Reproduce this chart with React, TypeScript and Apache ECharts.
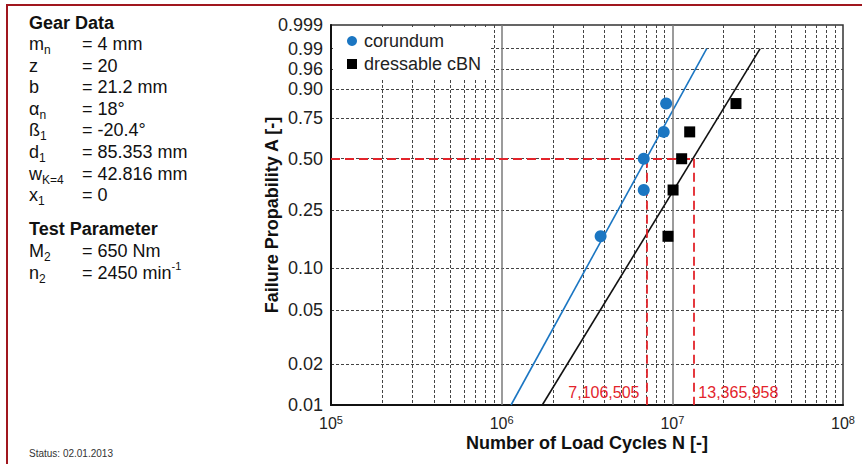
import React, { useEffect, useRef } from 'react';
import * as echarts from 'echarts';

// ---------- data ----------
const probabilityTicks = [0.01, 0.02, 0.05, 0.1, 0.25, 0.5, 0.75, 0.9, 0.96, 0.99, 0.999];
const probabilityLabels = ['0.01', '0.02', '0.05', '0.10', '0.25', '0.50', '0.75', '0.90', '0.96', '0.99', '0.999'];
const decadeExponents = [5, 6, 7, 8];
const minorMultipliers = [2, 3, 4, 5, 6, 7, 8, 9];

const failureProbability = [0.167, 0.333, 0.5, 0.667, 0.833];
const corundumCycles = [3.8e6, 6.8e6, 6.8e6, 8.9e6, 9.2e6];
const cbnCycles = [9.43e6, 1.01e7, 1.134e7, 1.264e7, 2.36e7];

const fitProbability = [0.01, 0.99];
const corundumFitCycles = [1.135e6, 1.59e7];
const cbnFitCycles = [1.73e6, 3.27e7];

const medianProbability = 0.5;
const medianLifeCycles = [7106505, 13365958];

const gearDataRows = [
  ['m', 'n', '= 4 mm'],
  ['z', '', '= 20'],
  ['b', '', '= 21.2 mm'],
  ['α', 'n', '= 18°'],
  ['ß', '1', '= -20.4°'],
  ['d', '1', '= 85.353 mm'],
  ['w', 'K=4', '= 42.816 mm'],
  ['x', '1', '= 0'],
];
const testParameterRows = [
  ['M', '2', '= 650 Nm', ''],
  ['n', '2', '= 2450 min', '-1'],
];

// ---------- helpers ----------
const FONT = '"Liberation Sans", Arial, Helvetica, sans-serif';
const W = (p: number) => Math.log(-Math.log(1 - p));
const L = (n: number) => Math.log10(n);

const BLUE = '#1b76c2';
const RED = '#e3242b';
const FRAME = '#a0161e';

function buildOption() {
  const yTickValues = probabilityTicks.map(W);
  const yGridValues = probabilityTicks.slice(1, -1).map(W);
  const xMinorValues: number[] = [];
  decadeExponents.slice(0, -1).forEach((e) => {
    minorMultipliers.forEach((k) => xMinorValues.push(L(k * Math.pow(10, e))));
  });
  const xMin = decadeExponents[0];
  const xMax = decadeExponents[decadeExponents.length - 1];
  const innerDecades = decadeExponents.slice(1, -1);

  const rich = {
    b: { fontSize: 18, fontFamily: FONT, fill: '#111', lineHeight: 24, verticalAlign: 'middle' },
    s: { fontSize: 12, fontFamily: FONT, fill: '#111', lineHeight: 12, verticalAlign: 'bottom' },
    p: { fontSize: 11, fontFamily: FONT, fill: '#111', lineHeight: 11, verticalAlign: 'top' },
  };

  const graphics: any[] = [
    { type: 'line', shape: { x1: 6, y1: 5, x2: 862, y2: 5 }, style: { stroke: FRAME, lineWidth: 2 } },
    { type: 'line', shape: { x1: 7, y1: 4, x2: 7, y2: 464 }, style: { stroke: FRAME, lineWidth: 2 } },
    {
      type: 'text', x: 29, y: 22.5,
      style: { text: 'Gear Data', fontSize: 18, fontWeight: 'bold', fontFamily: FONT, fill: '#111', verticalAlign: 'middle' },
    },
    {
      type: 'text', x: 29, y: 229,
      style: { text: 'Test Parameter', fontSize: 18, fontWeight: 'bold', fontFamily: FONT, fill: '#111', verticalAlign: 'middle' },
    },
    {
      type: 'text', x: 29, y: 453,
      style: { text: 'Status: 02.01.2013', fontSize: 10, fontFamily: FONT, fill: '#333', verticalAlign: 'middle' },
    },
  ];
  gearDataRows.forEach((r, i) => {
    const y = 44 + i * 21.6;
    graphics.push({
      type: 'text', x: 29, y,
      style: { text: `{b|${r[0]}}` + (r[1] ? `{s|${r[1]}}` : ''), rich, verticalAlign: 'middle' },
    });
    graphics.push({
      type: 'text', x: 82, y,
      style: { text: r[2], fontSize: 18, fontFamily: FONT, fill: '#111', verticalAlign: 'middle' },
    });
  });
  testParameterRows.forEach((r, i) => {
    const y = 251 + i * 21.6;
    graphics.push({
      type: 'text', x: 29, y,
      style: { text: `{b|${r[0]}}{s|${r[1]}}`, rich, verticalAlign: 'middle' },
    });
    graphics.push({
      type: 'text', x: 82, y,
      style: { text: `{b|${r[2]}}` + (r[3] ? `{p|${r[3]}}` : ''), rich, verticalAlign: 'middle' },
    });
  });

  return {
    animation: false,
    textStyle: { fontFamily: FONT },
    grid: {
      left: 331, right: 19, top: 25, bottom: 59,
      show: true, borderColor: '#333', borderWidth: 1.5, backgroundColor: 'transparent',
      containLabel: false,
    },
    legend: {
      data: ['corundum', 'dressable cBN'],
      orient: 'vertical',
      left: 333, top: 27,
      padding: [5, 8, 7, 14],
      itemGap: 5,
      itemWidth: 10, itemHeight: 10,
      backgroundColor: '#fff',
      textStyle: { fontSize: 18, color: '#222', fontFamily: FONT, padding: [0, 0, 0, 2] },
    },
    xAxis: {
      type: 'value', min: xMin, max: xMax,
      name: 'Number of Load Cycles N [-]', nameLocation: 'middle', nameGap: 29,
      nameMoveOverlap: false,
      nameTextStyle: { fontSize: 18, fontWeight: 'bold', color: '#111', fontFamily: FONT },
      axisLine: { show: true, onZero: false, lineStyle: { color: '#111', width: 2 } },
      axisTick: { show: false, customValues: xMinorValues },
      axisLabel: {
        customValues: decadeExponents,
        margin: 9,
        formatter: (v: number) => `{b|10}{s|${Math.round(v)}}`,
        rich: {
          b: { fontSize: 16, color: '#222', fontFamily: FONT, lineHeight: 18 },
          s: { fontSize: 11, color: '#222', fontFamily: FONT, lineHeight: 14, verticalAlign: 'top' },
        },
      },
      splitLine: { show: true, lineStyle: { color: '#444', width: 1, type: [3, 2] } },
    },
    yAxis: {
      type: 'value', min: yTickValues[0], max: yTickValues[yTickValues.length - 1],
      name: 'Failure Propability A [-]', nameLocation: 'middle', nameGap: 50, nameRotate: 90,
      nameMoveOverlap: false,
      nameTextStyle: { fontSize: 18, fontWeight: 'bold', color: '#111', fontFamily: FONT },
      axisLine: { show: true, onZero: false, lineStyle: { color: '#111', width: 2 } },
      axisTick: { show: false, customValues: yGridValues },
      axisLabel: {
        customValues: yTickValues,
        margin: 8,
        fontSize: 18, color: '#222', fontFamily: FONT,
        formatter: (v: number) => {
          let best = 0;
          yTickValues.forEach((t, i) => {
            if (Math.abs(t - v) < Math.abs(yTickValues[best] - v)) best = i;
          });
          return probabilityLabels[best];
        },
      },
      splitLine: { show: true, lineStyle: { color: '#444', width: 1, type: [3, 2] } },
    },
    graphic: graphics,
    series: [
      {
        name: 'decades', type: 'line', data: [], z: 1, silent: true,
        markLine: {
          silent: true, symbol: 'none', label: { show: false },
          lineStyle: { color: '#7a7a7a', width: 1.5, type: 'solid' },
          data: innerDecades.map((e) => ({ xAxis: e })),
        },
      },
      {
        name: 'corundum fit', type: 'line', z: 2, symbol: 'none', silent: true,
        lineStyle: { color: BLUE, width: 1.6 },
        data: corundumFitCycles.map((n, i) => [L(n), W(fitProbability[i])]),
      },
      {
        name: 'cBN fit', type: 'line', z: 2, symbol: 'none', silent: true,
        lineStyle: { color: '#111', width: 1.6 },
        data: cbnFitCycles.map((n, i) => [L(n), W(fitProbability[i])]),
      },
      {
        name: 'median', type: 'line', data: [], z: 3, silent: true,
        markLine: {
          silent: true, symbol: 'none', label: { show: false },
          lineStyle: { color: RED, width: 1.8, type: [9, 5] },
          data: [
            [
              { coord: [xMin, W(medianProbability)] },
              { coord: [L(medianLifeCycles[medianLifeCycles.length - 1]), W(medianProbability)] },
            ],
            ...medianLifeCycles.map((n) => [
              { coord: [L(n), W(medianProbability)] },
              { coord: [L(n), W(probabilityTicks[0])] },
            ]),
          ],
        },
      },
      {
        name: 'corundum', type: 'scatter', z: 5, symbol: 'circle', symbolSize: 12,
        itemStyle: { color: BLUE, opacity: 1 },
        data: corundumCycles.map((n, i) => [L(n), W(failureProbability[i])]),
      },
      {
        name: 'dressable cBN', type: 'scatter', z: 5, symbol: 'rect', symbolSize: 11,
        itemStyle: { color: '#000', opacity: 1 },
        data: cbnCycles.map((n, i) => [L(n), W(failureProbability[i])]),
      },
      {
        name: 'median labels', type: 'scatter', z: 6, symbolSize: 1, silent: true,
        itemStyle: { color: 'transparent' },
        data: medianLifeCycles.map((n, i) => ({
          value: [L(n), W(probabilityTicks[0])],
          label: {
            show: true,
            position: i === 0 ? 'left' : 'right',
            distance: i === 0 ? 7 : 4,
            offset: [0, -13],
            formatter: n.toLocaleString('en-US'),
            color: RED, fontSize: 16, fontFamily: FONT, opacity: 1,
          },
        })),
      },
    ],
  };
}

export default function App() {
  const ref = useRef<HTMLDivElement>(null);
  useEffect(() => {
    const chart = echarts.init(ref.current as HTMLDivElement, null, { renderer: 'svg' });
    chart.setOption(buildOption() as any);
    return () => chart.dispose();
  }, []);
  return (
    <div
      ref={ref}
      style={{ position: 'fixed', left: 0, top: 0, width: 862, height: 464, background: '#fff' }}
    />
  );
}
